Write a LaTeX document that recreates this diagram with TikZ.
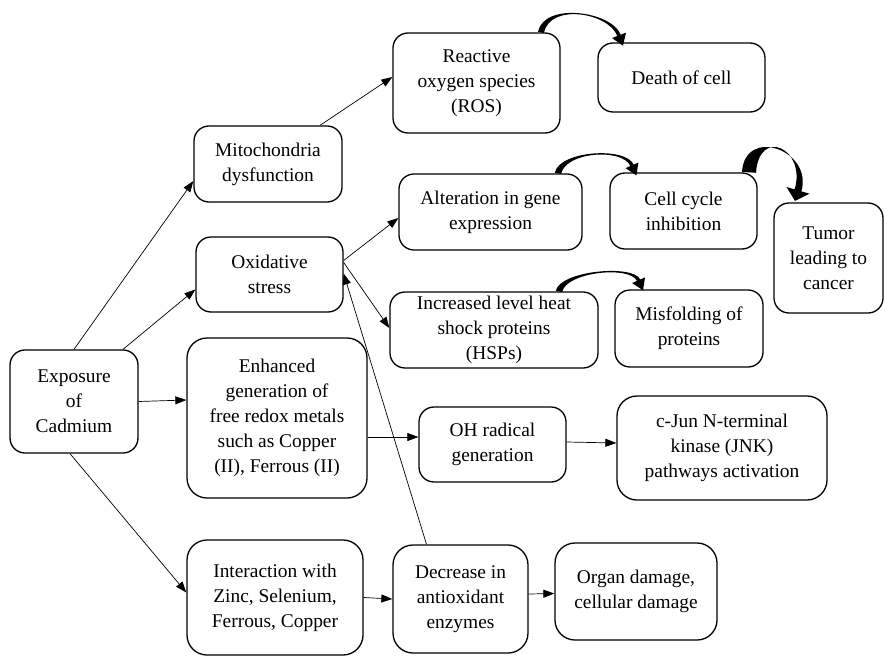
\documentclass[tikz,border=0pt]{standalone}
\usepackage{fontspec}
\setmainfont{Liberation Serif}
\usetikzlibrary{arrows.meta,calc}

% Tapered, filled curved arrow:
% #1 start, #2 first control, #3 second control, #4 base of head,
% #5 half width at start, #6 half width at head, #7 head half width, #8 head length
\newcommand{\taperarrow}[8]{%
  \coordinate (tA) at ($(#1)!#5!90:(#2)$);
  \coordinate (tB) at ($(#1)!#5!-90:(#2)$);
  \coordinate (tC) at ($(#4)!#6!-90:(#3)$);
  \coordinate (tD) at ($(#4)!#6!90:(#3)$);
  \fill[curvefill] (tA) .. controls ($(#2)+(tA)-(#1)$) and ($(#3)+(tC)-(#4)$) .. (tC)
     -- ($(#4)!#7!-90:(#3)$) -- ($(#4)!-#8!(#3)$) -- ($(#4)!#7!90:(#3)$) -- (tD)
     .. controls ($(#3)+(tD)-(#4)$) and ($(#2)+(tB)-(#1)$) .. (tB) -- cycle;
}

\tikzset{
  box/.style={draw, line width=1.3pt, rounded corners=15pt, align=center,
    inner sep=0pt, font=\fontsize{19.4}{25}\selectfont},
  bigbox/.style={box, rounded corners=20pt},
  link/.style={line width=0.7pt, -{Triangle[length=11pt,width=8pt]}},
  curvefill/.style={fill=black},
}

\begin{document}
\begin{tikzpicture}[x=1pt, y=-1pt]
\useasboundingbox (0,0) rectangle (885,658);

% boxes
\node[box, minimum width=128pt, minimum height=103pt] (expo) at (74,401.5) {Exposure\\of\\Cadmium};
\node[box, minimum width=148pt, minimum height=76pt] (mito) at (268,164) {Mitochondria\\dysfunction};
\node[box, minimum width=147pt, minimum height=75pt] (oxi) at (269.5,274.5) {Oxidative\\stress};
\node[bigbox, minimum width=180pt, minimum height=160pt] (enh) at (277,418) {Enhanced\\generation of\\free redox metals\\such as Copper\\(II), Ferrous (II)};
\node[bigbox, minimum width=176pt, minimum height=115pt] (inter) at (275,597.5) {Interaction with\\Zinc, Selenium,\\Ferrous, Copper};
\node[bigbox, minimum width=135pt, minimum height=108pt] (dec) at (460.5,599) {Decrease in\\antioxidant\\enzymes};
\node[bigbox, minimum width=162pt, minimum height=97pt] (organ) at (636,591.5) {Organ damage,\\cellular damage};
\node[box, minimum width=147pt, minimum height=75pt] (oh) at (492.5,444.5) {OH radical\\generation};
\node[bigbox, minimum width=210pt, minimum height=104pt] (jnk) at (722,448) {c-Jun N-terminal\\kinase (JNK)\\pathways activation};
\node[box, minimum width=167pt, minimum height=100pt] (ros) at (476.5,83) {Reactive\\oxygen species\\(ROS)};
\node[box, minimum width=167pt, minimum height=69pt] (death) at (681.5,77.5) {Death of cell};
\node[box, minimum width=183pt, minimum height=76pt] (alt) at (490.5,212) {Alteration in gene\\expression};
\node[box, minimum width=147pt, minimum height=76pt] (cell) at (683.5,211) {Cell cycle\\inhibition};
\node[box, minimum width=109pt, minimum height=110pt] (tumor) at (828.5,258) {Tumor\\leading to\\cancer};
\node[box, minimum width=208pt, minimum height=76pt] (hsp) at (494,330) {Increased level heat\\shock proteins\\(HSPs)};
\node[box, minimum width=148pt, minimum height=77pt] (mis) at (689,328.5) {Misfolding of\\proteins};

% thin straight connectors
\draw[link] (expo.north) -- ([yshift=-17pt]mito.west);
\draw[link] ([xshift=49pt]expo.north) -- ([yshift=-15pt]oxi.west);
\draw[link] (expo.east) -- ([yshift=18pt]enh.west);
\draw[link] ([xshift=-4pt]expo.south) -- ([yshift=5pt]inter.west);
\draw[link] ([xshift=52pt]mito.north) -- ([yshift=6pt]ros.west);
\draw[link] ([yshift=14pt]oxi.east) -- ([yshift=-6pt]alt.west);
\draw[link] ([yshift=12pt]oxi.east) -- ([yshift=2pt]hsp.west);
\draw[link] ([xshift=-34pt]dec.north) -- ([yshift=1pt]oxi.east);
\draw[link] ([yshift=-19pt]enh.east) -- ([yshift=7.5pt]oh.west);
\draw[link] ([yshift=2.5pt]oh.east) -- ([yshift=5pt]jnk.west);
\draw[link] (inter.east) -- (dec.west);
\draw[link] ([yshift=5pt]dec.east) -- ([yshift=-2pt]organ.west);

% thick curved connectors
\coordinate (a1s) at ([xshift=64.5pt]ros.north);
\coordinate (a1b) at ([xshift=-62.5pt,yshift=7pt]death.north);
\coordinate (a1c) at ($(a1s)+(6,-30)$);
\coordinate (a1d) at ($(a1b)+(-9,-23.5)$);
\taperarrow{a1s}{a1c}{a1d}{a1b}{3pt}{1.8pt}{7.5pt}{11pt}

\coordinate (a2s) at ([xshift=67.5pt]alt.north);
\coordinate (a2b) at ([xshift=-51.5pt,yshift=7pt]cell.north);
\coordinate (a2c) at ($(a2s)+(4,-22)$);
\coordinate (a2d) at ($(a2b)+(-8,-18.4)$);
\taperarrow{a2s}{a2c}{a2d}{a2b}{3.2pt}{1.8pt}{7pt}{11pt}

\coordinate (a3s) at ([xshift=65.5pt]cell.north);
\coordinate (a3b) at ([xshift=-30.5pt,yshift=12pt]tumor.north);
\coordinate (a3c) at ($(a3s)+(3,-46)$);
\coordinate (a3d) at ($(a3b)+(12,-41)$);
\taperarrow{a3s}{a3c}{a3d}{a3b}{7pt}{3.5pt}{12pt}{11pt}

\coordinate (a4s) at ([xshift=65pt]hsp.north);
\coordinate (a4b) at ([xshift=-50.4pt,yshift=9.1pt]mis.north);
\coordinate (a4c) at ($(a4s)+(4,-20)$);
\coordinate (a4d) at ($(a4b)+(-6.8,-15.6)$);
\taperarrow{a4s}{a4c}{a4d}{a4b}{3.2pt}{1.8pt}{7pt}{11pt}
\end{tikzpicture}
\end{document}
